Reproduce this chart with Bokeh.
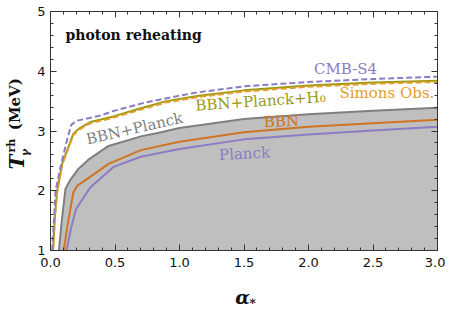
from bokeh.plotting import figure
from bokeh.layouts import row, column
from bokeh.models import (Label, LinearAxis, SingleIntervalTicker, NumeralTickFormatter,
                          Range1d, CustomJSTickFormatter)
from bokeh.embed import file_html
from bokeh.resources import INLINE

# ---- data ----
gray_a = [0.065, 0.09, 0.116, 0.15, 0.21, 0.3, 0.45, 0.7, 0.84, 1.0, 1.5, 2.0, 2.5, 3.0]
gray_t = [1.0, 1.55, 2.03, 2.17, 2.35, 2.53, 2.75, 2.91, 2.97, 3.05, 3.2, 3.28, 3.34, 3.39]

bbn_a = [0.103, 0.13, 0.178, 0.21, 0.28, 0.45, 0.7, 1.0, 1.5, 2.0, 2.5, 3.0]
bbn_t = [1.0, 1.4, 1.98, 2.09, 2.19, 2.45, 2.68, 2.82, 2.98, 3.07, 3.13, 3.19]

planck_a = [0.124, 0.16, 0.197, 0.31, 0.49, 0.7, 1.0, 1.5, 2.0, 2.5, 3.0]
planck_t = [1.0, 1.38, 1.69, 2.06, 2.4, 2.57, 2.7, 2.86, 2.94, 3.01, 3.07]

h0_a = [0.02, 0.035, 0.052, 0.09, 0.176, 0.22, 0.31, 0.48, 0.7, 0.9, 1.15, 1.5, 2.0, 2.5, 3.0]
h0_t = [1.0, 1.6, 2.0, 2.45, 2.95, 3.04, 3.15, 3.24, 3.38, 3.5, 3.59, 3.68, 3.76, 3.81, 3.84]

so_a = [0.02, 0.035, 0.052, 0.09, 0.176, 0.22, 0.31, 0.48, 0.7, 0.9, 1.15, 1.5, 2.0, 2.5, 3.0]
so_t = [1.0, 1.58, 1.98, 2.43, 2.93, 3.02, 3.13, 3.22, 3.36, 3.48, 3.57, 3.66, 3.74, 3.79, 3.82]

s4_a = [0.013, 0.039, 0.078, 0.12, 0.16, 0.2, 0.39, 0.48, 0.74, 1.12, 1.51, 2.0, 2.5, 3.0]
s4_t = [1.0, 2.0, 2.4, 2.78, 3.1, 3.17, 3.26, 3.33, 3.48, 3.64, 3.75, 3.82, 3.87, 3.91]

x_ticks_interval = 0.5
y_ticks_interval = 1

GRAY_FILL = "#bfbfbf"
GRAY_LINE = "#7f7f7f"
ORANGE = "#cf7420"
PURPLE = "#8b7cc4"
OLIVE = "#9a9a12"
GOLD = "#e59c2a"
INK = "#111111"

p = figure(frame_width=387, frame_height=239,
           min_border_left=18, min_border_right=8, min_border_top=11, min_border_bottom=26,
           x_range=Range1d(0, 3), y_range=Range1d(1, 5),
           output_backend="svg", toolbar_location=None)
p.background_fill_color = "white"
p.border_fill_color = "white"
p.outline_line_color = "#333333"
p.grid.visible = False

def style_axis(ax, show_labels=True):
    ax.major_tick_in = 6
    ax.major_tick_out = 0
    ax.minor_tick_in = 3
    ax.minor_tick_out = 0
    ax.axis_line_color = "#333333"
    ax.major_tick_line_color = "#333333"
    ax.minor_tick_line_color = "#333333"
    if show_labels:
        ax.major_label_text_font = "DejaVu Sans"
        ax.major_label_text_font_size = "13px"
        ax.major_label_text_color = INK
    else:
        ax.formatter = CustomJSTickFormatter(code="return ''")
        ax.major_label_standoff = 0

p.xaxis.ticker = SingleIntervalTicker(interval=x_ticks_interval, num_minor_ticks=5)
p.yaxis.ticker = SingleIntervalTicker(interval=y_ticks_interval, num_minor_ticks=5)
p.xaxis.formatter = NumeralTickFormatter(format="0.0")
style_axis(p.xaxis[0])
style_axis(p.yaxis[0])
p.xaxis.major_label_standoff = 7
p.yaxis.major_label_standoff = 5

top = LinearAxis(ticker=SingleIntervalTicker(interval=x_ticks_interval, num_minor_ticks=5))
style_axis(top, False)
p.add_layout(top, "above")
right = LinearAxis(ticker=SingleIntervalTicker(interval=y_ticks_interval, num_minor_ticks=5))
style_axis(right, False)
p.add_layout(right, "right")

# shaded region and curves
p.varea(x=gray_a, y1=[1.0] * len(gray_a), y2=gray_t, fill_color=GRAY_FILL)
p.line(gray_a, gray_t, line_color=GRAY_LINE, line_width=2)
p.line(bbn_a, bbn_t, line_color=ORANGE, line_width=2)
p.line(planck_a, planck_t, line_color=PURPLE, line_width=2)
p.line(h0_a, h0_t, line_color=OLIVE, line_width=2)
p.line(so_a, so_t, line_color=GOLD, line_width=2, line_dash="6 3")
p.line(s4_a, s4_t, line_color=PURPLE, line_width=2, line_dash="6 3")

def lab(fig, x, y, text, color, size, style="normal", angle=0, align="center", font="DejaVu Serif"):
    fig.add_layout(Label(x=x, y=y, text=text, text_color=color, text_font_size=f"{size}px",
                         text_font_style=style, angle=angle, angle_units="deg",
                         text_align=align, text_baseline="middle", text_font=font))

lab(p, 0.116, 4.615, "photon reheating", INK, 14, "bold", align="left")
lab(p, 2.287, 4.03, "CMB-S4", PURPLE, 15)
lab(p, 2.608, 3.63, "Simons Obs.", GOLD, 15)
lab(p, 1.628, 3.50, "BBN+Planck+H₀", OLIVE, 15, angle=4)
lab(p, 0.651, 3.04, "BBN+Planck", GRAY_LINE, 15, angle=13)
lab(p, 1.79, 3.16, "BBN", ORANGE, 15, angle=2)
lab(p, 1.504, 2.62, "Planck", PURPLE, 15, angle=3)

def blank(w, h, y0, y1):
    f = figure(width=w, height=h, x_range=Range1d(0, w), y_range=Range1d(y1, y0),
               min_border=0, output_backend="svg", toolbar_location=None)
    f.axis.visible = False
    f.grid.visible = False
    f.outline_line_color = None
    f.background_fill_color = "white"
    f.border_fill_color = "white"
    return f

# y-axis title (T_γ^rh (MeV)), composed in page pixel space
ylab = blank(32, 276, 0, 276)
lab(ylab, 14, 107, "(MeV)", INK, 15, "bold", angle=90)
lab(ylab, 16, 174, "T", INK, 20, "bold italic", angle=90)
lab(ylab, 11, 155, "rh", INK, 11, "bold", angle=90)
lab(ylab, 25, 163, "γ", INK, 11, "bold italic", angle=90)

# x-axis title (α_*)
xlab = blank(445, 30, 276, 306)
lab(xlab, 242, 296, "α", INK, 19, "bold italic")
lab(xlab, 252, 300, "∗", INK, 12, "bold")

layout = column(row(ylab, p, spacing=0), xlab, spacing=0)
open("out.html", "w").write(file_html(layout, INLINE))
